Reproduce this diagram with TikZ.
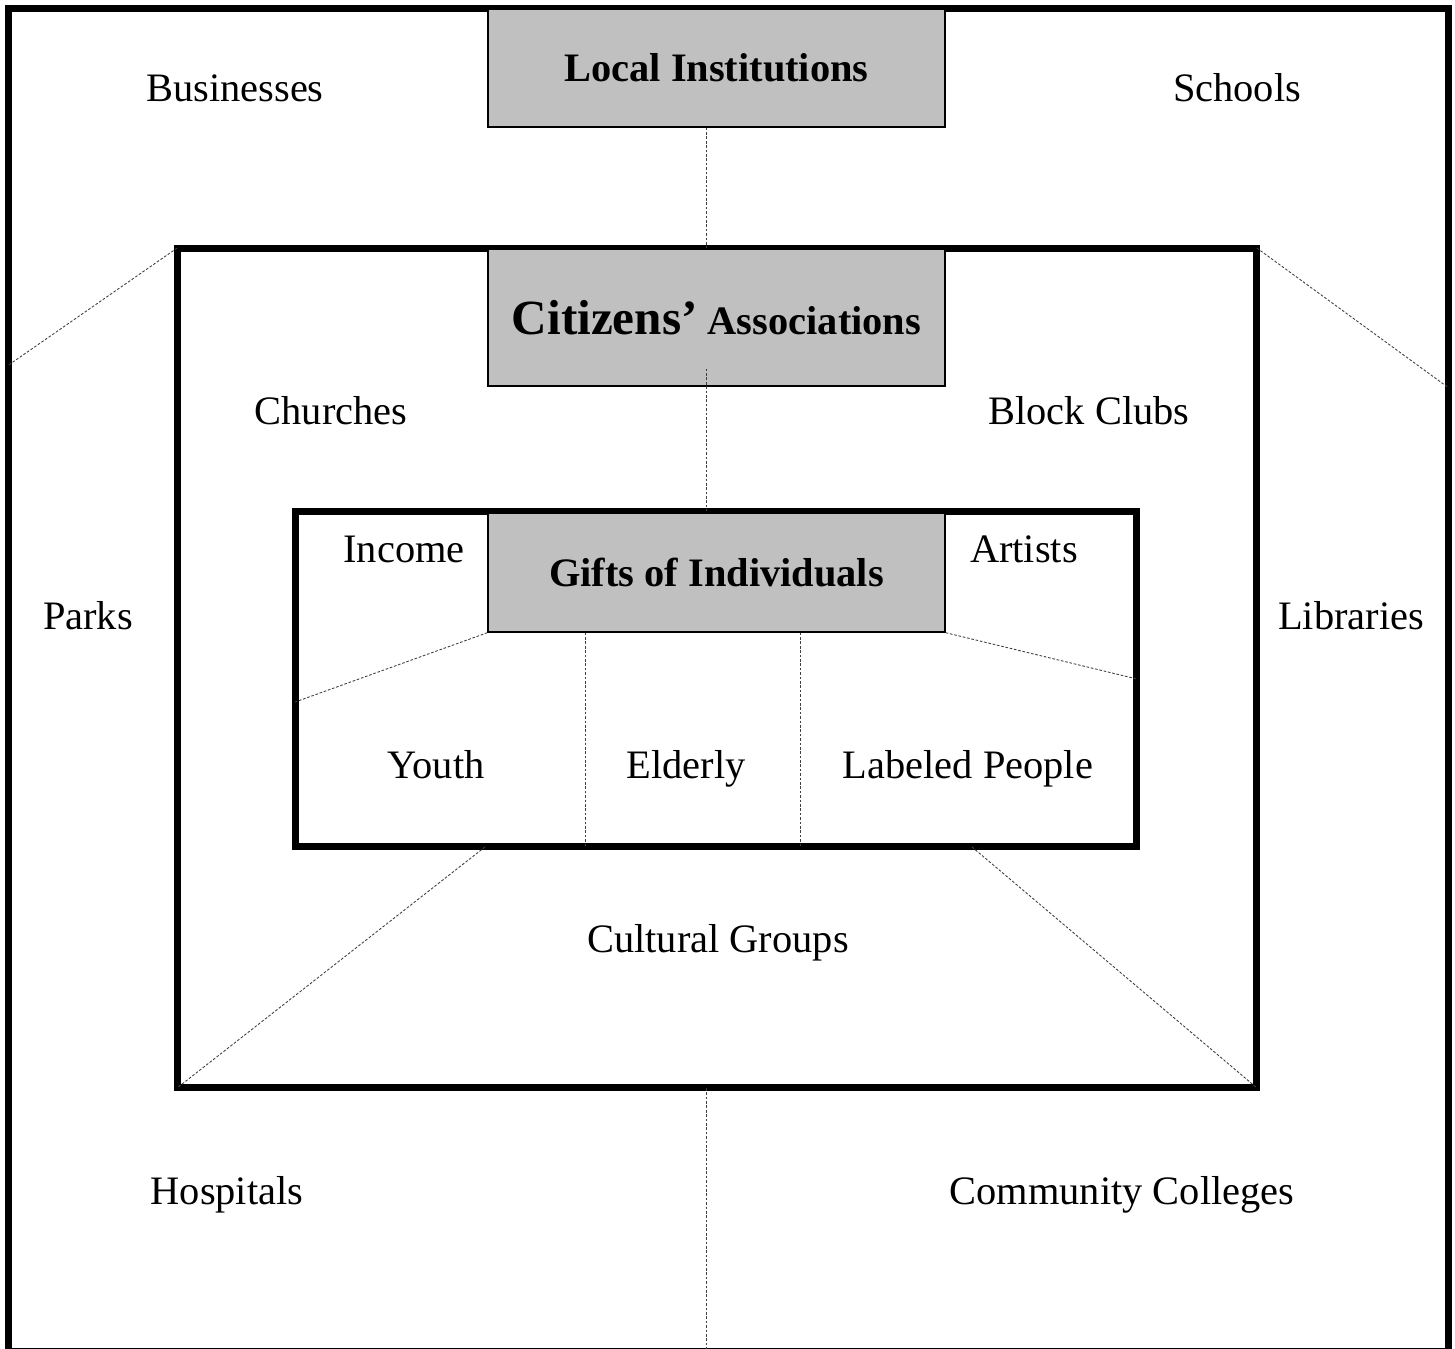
\documentclass[tikz,border=0pt]{standalone}
\usepackage{fontspec}
\setmainfont{Liberation Serif}
\definecolor{boxGray}{HTML}{C0C0C0}
\begin{document}
\begin{tikzpicture}[x=0.02cm, y=-0.02cm,
    frameStyle/.style={rectangle, draw, line width=4pt, inner sep=0pt, outer sep=0pt},
    boxStyle/.style={rectangle, draw, fill=boxGray, line width=0.8pt, minimum width=9.14cm, inner sep=0pt, font=\fontsize{23}{27}\selectfont\bfseries},
    labelStyle/.style={anchor=base, inner sep=0pt, font=\fontsize{23}{27}\selectfont},
    linkStyle/.style={draw=black!75, line width=0.5pt, dash pattern=on 1.5pt off 1pt}]
    \useasboundingbox (0,0) rectangle (1455,1349);

    % frames
    \node[frameStyle, minimum width=28.81cm, minimum height=26.88cm] (outer)  at (728.75, 680) {};
    \node[frameStyle, minimum width=21.6cm,  minimum height=16.8cm]  (middle) at (717, 668) {};
    \node[frameStyle, minimum width=16.84cm, minimum height=6.72cm]  (inner)  at (716, 679) {};

    % grey boxes
    \node[boxStyle, minimum height=2.36cm] (local)    at (716.5, 68)    {Local Institutions};
    \node[boxStyle, minimum height=2.74cm] (citizens) at (716.5, 317.5) {{\fontsize{28}{32}\selectfont Citizens’} Associations};
    \node[boxStyle, minimum height=2.38cm] (gifts)    at (716.5, 572.5) {Gifts of Individuals};

    % labels
    \node[labelStyle] (businesses) at (235, 101)  {Businesses};
    \node[labelStyle] (schools)    at (1237, 101) {Schools};
    \node[labelStyle] (churches)   at (331, 424)  {Churches};
    \node[labelStyle] (blockclubs) at (1089, 424) {Block Clubs};
    \node[labelStyle] (parks)      at (88, 629)   {Parks};
    \node[labelStyle] (libraries)  at (1351, 629) {Libraries};
    \node[labelStyle] (income)     at (404, 562)  {Income};
    \node[labelStyle] (artists)    at (1024, 562) {Artists};
    \node[labelStyle] (youth)      at (436, 778)  {Youth};
    \node[labelStyle] (elderly)    at (686, 778)  {Elderly};
    \node[labelStyle] (labeled)    at (968, 778)  {Labeled People};
    \node[labelStyle] (cultural)   at (718, 952)  {Cultural Groups};
    \node[labelStyle] (hospitals)  at (227, 1204) {Hospitals};
    \node[labelStyle] (colleges)   at (1122, 1204) {Community Colleges};

    % links
    \coordinate (axis) at (706, 0);
    \coordinate (bottomEnd) at (706, 1349);
    \draw[linkStyle] (local.south -| axis) -- (middle.north -| axis);
    \draw[linkStyle] (citizens.south -| axis) ++(0,-18) -- (inner.north -| axis);
    \draw[linkStyle] (middle.south -| axis) -- (bottomEnd);

    \draw[linkStyle] (middle.north west) -- (outer.west |- 0,365);
    \draw[linkStyle] (middle.north east) -- (outer.east |- 0,388);
    \draw[linkStyle] (gifts.south west) -- (inner.west |- 0,702);
    \draw[linkStyle] (gifts.south east) -- (inner.east |- 0,679);
    \draw[linkStyle] (inner.south -| 485,0) -- (middle.south west);
    \draw[linkStyle] (inner.south -| 972,0) -- (middle.south east);
    \draw[linkStyle] (gifts.south -| 585,0) -- (inner.south -| 585,0);
    \draw[linkStyle] (gifts.south -| 800,0) -- (inner.south -| 800,0);
\end{tikzpicture}
\end{document}
